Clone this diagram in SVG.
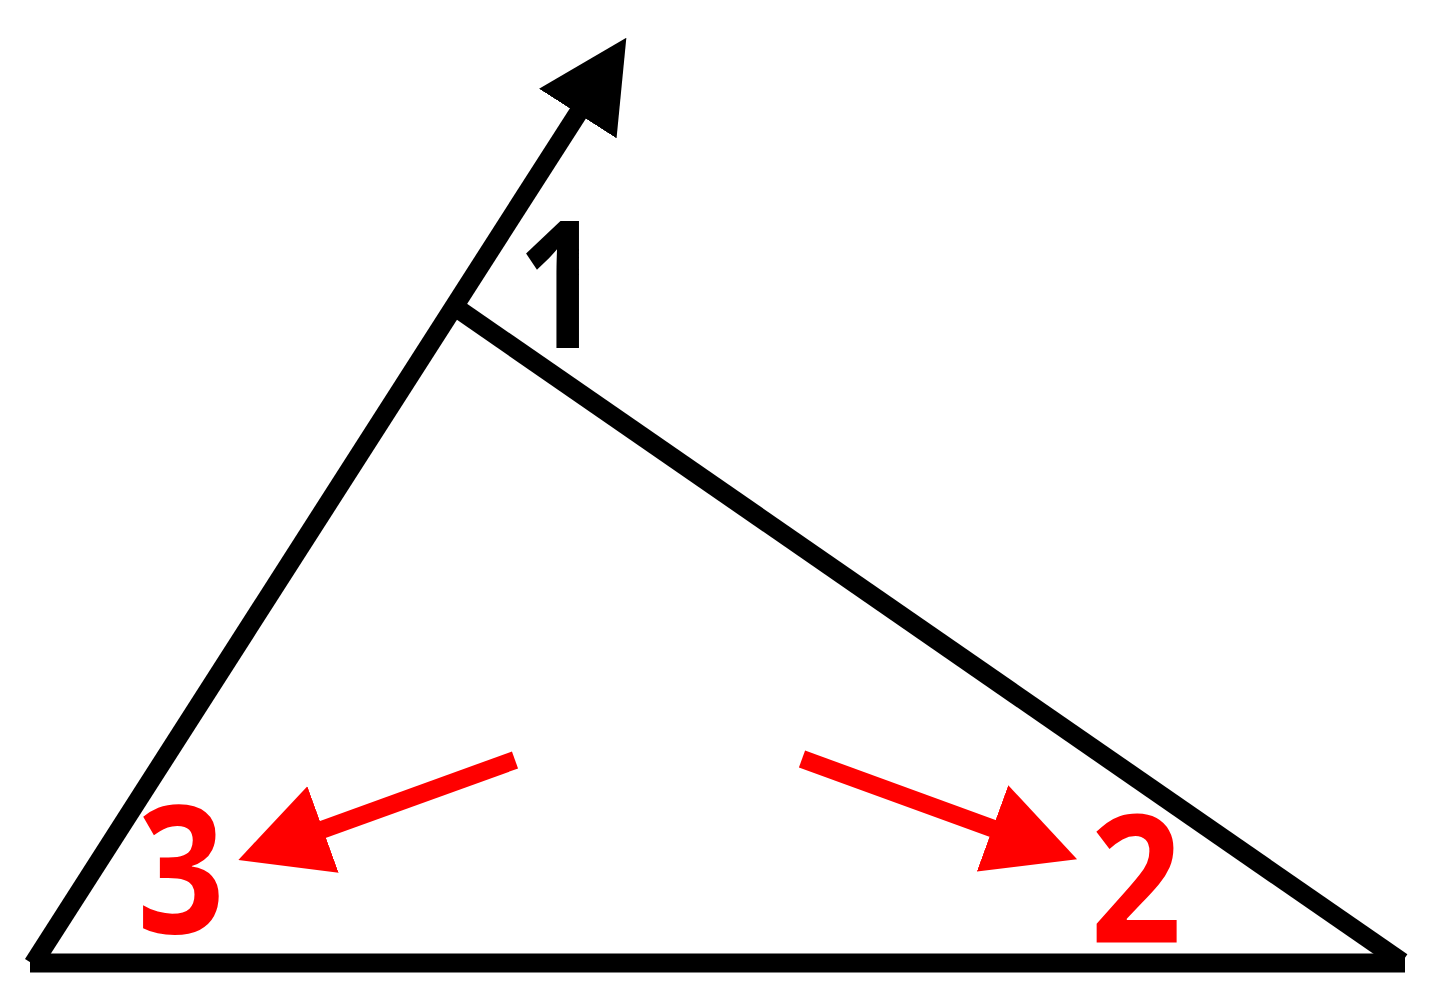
<svg xmlns="http://www.w3.org/2000/svg" width="1440" height="997" viewBox="0 0 1440 997">
<style>
.blk{stroke:#000;stroke-width:19;fill:none;stroke-linecap:butt}
.red{stroke:#ff0000;stroke-width:18;fill:none;stroke-linecap:butt}
.lbl{font-family:"Open Sans","Liberation Sans",Arial,sans-serif;font-weight:bold;font-size:178px;text-anchor:middle}
</style>
<defs>
<marker id="hb" markerUnits="userSpaceOnUse" markerWidth="90" markerHeight="92" refX="5" refY="46" orient="auto" viewBox="0 0 90 92">
<path d="M0,0 L90,46 L0,92 z" fill="#000"/>
</marker>
<marker id="hr" markerUnits="userSpaceOnUse" markerWidth="90" markerHeight="92" refX="5" refY="46" orient="auto" viewBox="0 0 90 92">
<path d="M0,0 L90,46 L0,92 z" fill="#ff0000"/>
</marker>
</defs>
<rect width="1440" height="997" fill="#fff"/>
<g id="triangle">
<line class="blk" x1="30" y1="963" x2="1405" y2="963"/>
<line class="blk" x1="458" y1="309" x2="1402" y2="962"/>
</g>
<g id="connectors">
<line class="blk" x1="33" y1="964" x2="580.5" y2="109.3" marker-end="url(#hb)"/>
<line class="red" x1="515" y1="760" x2="318.3" y2="831.1" marker-end="url(#hr)"/>
<line class="red" x1="802" y1="759" x2="997.2" y2="830.1" marker-end="url(#hr)"/>
</g>
<g id="label1"><text class="lbl" transform="translate(560 348) scale(0.84 1)" fill="#000">1</text></g>
<g id="label3"><text class="lbl" transform="translate(181 933) scale(0.86 1)" fill="#ff0000">3</text></g>
<g id="label2"><text class="lbl" transform="translate(1136 942) scale(0.9 1)" fill="#ff0000">2</text></g>
</svg>
